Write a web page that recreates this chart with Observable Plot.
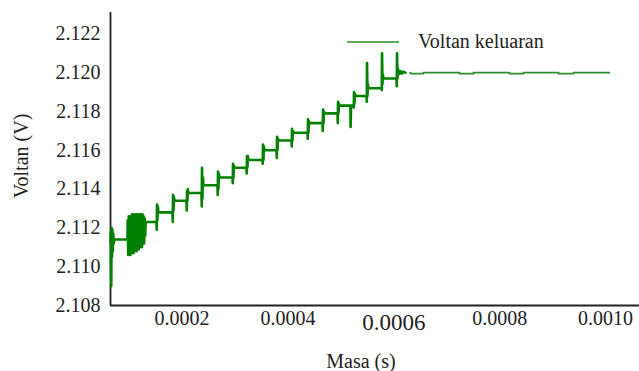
<!DOCTYPE html>
<html>
<head>
<meta charset="utf-8">
<script src="https://cdn.jsdelivr.net/npm/d3@7"></script>
<script src="https://cdn.jsdelivr.net/npm/@observablehq/plot@0.6"></script>
<style>
  html, body { margin: 0; padding: 0; background: white; }
  #chart { position: relative; width: 639px; height: 371px; font-family: "Liberation Serif", serif; }
</style>
</head>
<body>
<div id="chart"></div>
<script>
// Time in microseconds (converted to seconds for plotting)
const masaUs = [
  65.0, 65.8, 66.4, 67.1, 67.8, 68.6, 69.4, 70.3, 71.2, 72.0, 97.0,
  97.5, 98.5, 99.5, 100.5, 101.5, 102.5, 103.5, 104.5, 105.5, 106.5, 107.5, 108.5,
  109.5, 110.5, 111.5, 112.5, 113.5, 114.5, 115.5, 116.5, 117.5, 118.5, 119.5, 120.5,
  121.5, 122.5, 123.5, 124.5, 125.5, 126.5, 127.5, 128.5, 129.5, 130.5, 131.5,
  151.8, 152.3, 152.8, 153.6, 154.4, 155.5,
  182.1, 182.6, 183.1, 183.9, 184.7, 185.8,
  208.5, 209.0, 209.5, 210.3, 211.1, 212.2,
  236.8, 237.3, 237.8, 238.6, 239.4, 240.5,
  267.0, 267.5, 268.0, 268.8, 269.6, 270.7,
  295.4, 295.9, 296.4, 297.2, 298.0, 299.1,
  321.8, 322.3, 322.8, 323.6, 324.4, 325.5,
  352.0, 352.5, 353.0, 353.8, 354.6, 355.7,
  378.5, 379.0, 379.5, 380.3, 381.1, 382.2,
  406.8, 407.3, 407.8, 408.6, 409.4, 410.5,
  437.0, 437.5, 438.0, 438.8, 439.6, 440.7,
  465.4, 465.9, 466.4, 467.2, 468.0, 469.1,
  493.7, 494.2, 494.7, 495.5, 496.3, 497.4,
  518.0, 518.5, 519.2,
  523.9, 524.4, 524.9, 525.7, 526.5, 527.6,
  548.5, 549.0, 549.5, 550.3, 551.1, 552.2,
  576.8, 577.3, 577.8, 578.6, 579.4, 580.5,
  605.1, 605.6, 606.1, 606.9, 607.7, 608.5, 609.5, 611.0, 613.0, 615.5, 618.0, 622.0,
  631.5, 631.6, 656.1, 656.2, 724.1, 724.2, 750.5, 750.6,
  818.5, 818.6, 845.0, 845.1, 911.1, 911.2, 939.4, 939.5, 1007.0
];
const voltan = [
  2.1113, 2.1118, 2.1090, 2.1120, 2.1105, 2.1119, 2.1108, 2.1117, 2.1112, 2.1114, 2.1114,
  2.1124, 2.1106, 2.1126, 2.1107, 2.1125, 2.1106, 2.1126, 2.1107, 2.1127, 2.1108, 2.1126, 2.1107,
  2.1127, 2.1108, 2.1126, 2.1109, 2.1127, 2.1108, 2.1127, 2.1110, 2.1126, 2.1109, 2.1127, 2.1110,
  2.1127, 2.1111, 2.1126, 2.1110, 2.1127, 2.1112, 2.1126, 2.1112, 2.1125, 2.1116, 2.1123,
  2.1123, 2.1119, 2.1132, 2.1124, 2.1131, 2.1128,
  2.1128, 2.1123, 2.1137, 2.1129, 2.1136, 2.1134,
  2.1134, 2.1129, 2.1139, 2.1134, 2.1140, 2.1138,
  2.1138, 2.1131, 2.1151, 2.1135, 2.1146, 2.1142,
  2.1142, 2.1137, 2.1149, 2.1140, 2.1148, 2.1146,
  2.1146, 2.1143, 2.1153, 2.1146, 2.1152, 2.1151,
  2.1151, 2.1148, 2.1157, 2.1151, 2.1157, 2.1155,
  2.1155, 2.1153, 2.1163, 2.1155, 2.1162, 2.1160,
  2.1160, 2.1156, 2.1167, 2.1160, 2.1166, 2.1165,
  2.1165, 2.1162, 2.1171, 2.1165, 2.1170, 2.1169,
  2.1169, 2.1166, 2.1176, 2.1169, 2.1175, 2.1174,
  2.1174, 2.1170, 2.1181, 2.1174, 2.1180, 2.1179,
  2.1179, 2.1174, 2.1185, 2.1179, 2.1184, 2.1183,
  2.1183, 2.1172, 2.1183,
  2.1183, 2.1182, 2.1190, 2.1184, 2.1189, 2.1188,
  2.1188, 2.1185, 2.1205, 2.1188, 2.1194, 2.1192,
  2.1192, 2.1191, 2.1210, 2.1194, 2.1199, 2.1197,
  2.1197, 2.1193, 2.1210, 2.1197, 2.1202, 2.1199, 2.1201, 2.11995, 2.12008, 2.11995, 2.12005, 2.1200,
  2.1200, 2.11995, 2.11995, 2.1200, 2.1200, 2.11995, 2.11995, 2.1200,
  2.1200, 2.11995, 2.11995, 2.1200, 2.1200, 2.11995, 2.11995, 2.1200, 2.1200
];
const xTicks = [0.0002, 0.0004, 0.0008, 0.0010];
const xTickBig = [0.0006];
const yTicks = [2.108, 2.110, 2.112, 2.114, 2.116, 2.118, 2.120, 2.122];
const seriesName = "Voltan keluaran";
const xLabel = "Masa (s)";
const yLabel = "Voltan (V)";

const data = masaUs.map((t, i) => ({masa: t * 1e-6, voltan: voltan[i]}));
const splitT = 622e-6;
const serif = "Liberation Serif";

const x0 = 0.000065, x1 = 0.001064;
const svg = Plot.plot({
  width: 639,
  height: 371,
  marginLeft: 110,
  marginRight: 0,
  marginTop: 12,
  marginBottom: 66,
  x: {domain: [x0, x1]},
  y: {domain: [2.108, 2.1231]},
  style: {fontFamily: serif, fontSize: "20px", color: "#222", background: "white"},
  marks: [
    Plot.axisY(yTicks, {tickSize: 0, tickPadding: 10, tickFormat: d => d.toFixed(3), label: null}),
    Plot.axisX(xTicks, {tickSize: 0, tickPadding: 5, tickFormat: d => d.toFixed(4), label: null}),
    Plot.axisX(xTickBig, {tickSize: 0, tickPadding: 8, tickFormat: d => d.toFixed(4), label: null, fontSize: 23}),
    Plot.ruleX([x0], {stroke: "#222", strokeWidth: 1.8}),
    Plot.ruleY([2.108], {stroke: "#222", strokeWidth: 1.8}),
    Plot.line(data.filter(d => d.masa <= splitT), {x: "masa", y: "voltan", stroke: "#008000", strokeWidth: 2.6}),
    Plot.line(data.filter(d => d.masa >= splitT), {x: "masa", y: "voltan", stroke: "#2a912a", strokeWidth: 1.8})
  ]
});

const s = d3.select(svg);
s.attr("font-family", serif);

s.append("text")
  .attr("transform", "translate(22,156) rotate(-90)")
  .attr("text-anchor", "middle").attr("dy", "0.32em")
  .attr("fill", "#222").text(yLabel);
s.append("text")
  .attr("x", 361).attr("y", 368)
  .attr("text-anchor", "middle")
  .attr("fill", "#222").text(xLabel);
s.append("line")
  .attr("x1", 347).attr("x2", 399).attr("y1", 42).attr("y2", 42)
  .attr("stroke", "#2a912a").attr("stroke-width", 1.5);
s.append("text")
  .attr("x", 418).attr("y", 42).attr("dy", "0.32em")
  .attr("text-anchor", "start")
  .attr("fill", "#222").text(seriesName);

document.getElementById("chart").appendChild(svg);
</script>
</body>
</html>
